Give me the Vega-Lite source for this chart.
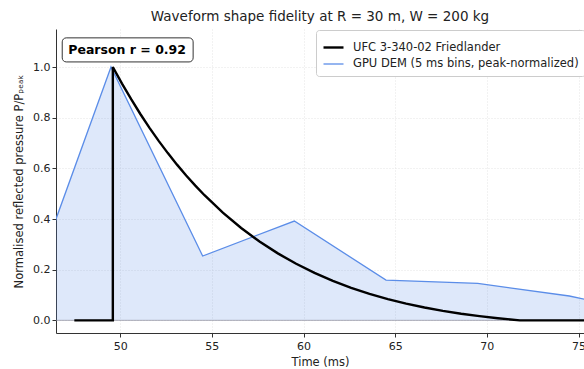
{
  "$schema": "https://vega.github.io/schema/vega-lite/v6.json",
  "width": 528,
  "height": 304,
  "autosize": {"type": "none"},
  "padding": {"left": 56, "top": 29, "right": 0, "bottom": 36},
  "title": {"text": "Waveform shape fidelity at R = 30 m, W = 200 kg", "font": "DejaVu Sans", "fontSize": 13.5, "fontWeight": "normal", "color": "#222", "offset": 6, "anchor": "middle"},
  "config": {
    "font": "DejaVu Sans",
    "view": {"stroke": null},
    "axis": {"labelFont": "DejaVu Sans", "titleFont": "DejaVu Sans", "labelFontSize": 11, "titleFontSize": 11.5, "titleFontWeight": "normal", "labelColor": "#222", "titleColor": "#222", "domainColor": "#333", "tickColor": "#333", "tickSize": 4, "gridColor": "#dddddd", "gridDash": [1, 2], "gridWidth": 0.8}
  },
  "datasets": {
    "dem": [
      {"t": 44.5, "p": 0.0, "series": "GPU DEM (5 ms bins, peak-normalized)"},
      {"t": 49.5, "p": 1.0, "series": "GPU DEM (5 ms bins, peak-normalized)"},
      {"t": 54.5, "p": 0.254, "series": "GPU DEM (5 ms bins, peak-normalized)"},
      {"t": 59.5, "p": 0.392, "series": "GPU DEM (5 ms bins, peak-normalized)"},
      {"t": 64.5, "p": 0.159, "series": "GPU DEM (5 ms bins, peak-normalized)"},
      {"t": 69.5, "p": 0.146, "series": "GPU DEM (5 ms bins, peak-normalized)"},
      {"t": 74.5, "p": 0.096, "series": "GPU DEM (5 ms bins, peak-normalized)"},
      {"t": 79.5, "p": 0.02, "series": "GPU DEM (5 ms bins, peak-normalized)"}
    ],
    "fr": [
      {"o": 0, "t": 47.5, "p": 0.0, "series": "UFC 3-340-02 Friedlander"},
      {"o": 1, "t": 49.6, "p": 0.0, "series": "UFC 3-340-02 Friedlander"},
      {"o": 2, "t": 49.6, "p": 1.0, "series": "UFC 3-340-02 Friedlander"},
      {"o": 3, "t": 50.1, "p": 0.9345, "series": "UFC 3-340-02 Friedlander"},
      {"o": 4, "t": 50.6, "p": 0.8728, "series": "UFC 3-340-02 Friedlander"},
      {"o": 5, "t": 51.1, "p": 0.8145, "series": "UFC 3-340-02 Friedlander"},
      {"o": 6, "t": 51.6, "p": 0.7599, "series": "UFC 3-340-02 Friedlander"},
      {"o": 7, "t": 52.1, "p": 0.7085, "series": "UFC 3-340-02 Friedlander"},
      {"o": 8, "t": 52.6, "p": 0.6601, "series": "UFC 3-340-02 Friedlander"},
      {"o": 9, "t": 53.1, "p": 0.6146, "series": "UFC 3-340-02 Friedlander"},
      {"o": 10, "t": 53.6, "p": 0.5717, "series": "UFC 3-340-02 Friedlander"},
      {"o": 11, "t": 54.1, "p": 0.5316, "series": "UFC 3-340-02 Friedlander"},
      {"o": 12, "t": 54.6, "p": 0.4938, "series": "UFC 3-340-02 Friedlander"},
      {"o": 13, "t": 55.6, "p": 0.425, "series": "UFC 3-340-02 Friedlander"},
      {"o": 14, "t": 56.6, "p": 0.3645, "series": "UFC 3-340-02 Friedlander"},
      {"o": 15, "t": 57.6, "p": 0.3111, "series": "UFC 3-340-02 Friedlander"},
      {"o": 16, "t": 58.6, "p": 0.2643, "series": "UFC 3-340-02 Friedlander"},
      {"o": 17, "t": 59.6, "p": 0.2232, "series": "UFC 3-340-02 Friedlander"},
      {"o": 18, "t": 60.6, "p": 0.1873, "series": "UFC 3-340-02 Friedlander"},
      {"o": 19, "t": 61.6, "p": 0.1559, "series": "UFC 3-340-02 Friedlander"},
      {"o": 20, "t": 62.6, "p": 0.1285, "series": "UFC 3-340-02 Friedlander"},
      {"o": 21, "t": 63.6, "p": 0.1046, "series": "UFC 3-340-02 Friedlander"},
      {"o": 22, "t": 64.6, "p": 0.084, "series": "UFC 3-340-02 Friedlander"},
      {"o": 23, "t": 65.6, "p": 0.0661, "series": "UFC 3-340-02 Friedlander"},
      {"o": 24, "t": 66.6, "p": 0.0506, "series": "UFC 3-340-02 Friedlander"},
      {"o": 25, "t": 67.6, "p": 0.0374, "series": "UFC 3-340-02 Friedlander"},
      {"o": 26, "t": 68.6, "p": 0.026, "series": "UFC 3-340-02 Friedlander"},
      {"o": 27, "t": 69.6, "p": 0.0164, "series": "UFC 3-340-02 Friedlander"},
      {"o": 28, "t": 70.6, "p": 0.0082, "series": "UFC 3-340-02 Friedlander"},
      {"o": 29, "t": 71.8, "p": 0.0, "series": "UFC 3-340-02 Friedlander"},
      {"o": 30, "t": 78.0, "p": 0.0, "series": "UFC 3-340-02 Friedlander"}
    ]
  },
  "encoding": {
    "x": {"type": "quantitative", "scale": {"domain": [46.5, 75.3], "nice": false, "zero": false}, "axis": {"title": "Time (ms)", "values": [50, 55, 60, 65, 70, 75], "grid": true, "titlePadding": 5, "labelPadding": 3}},
    "y": {"type": "quantitative", "scale": {"domain": [-0.05, 1.15], "nice": false, "zero": false}, "axis": {"title": "Normalised reflected pressure P/Pₚₑₐₖ", "values": [0, 0.2, 0.4, 0.6, 0.8, 1.0], "format": ".1f", "grid": true, "titlePadding": 8}}
  },
  "layer": [
    {
      "data": {"name": "dem"},
      "mark": {"type": "area", "color": "#5b8de8", "opacity": 0.2, "clip": true},
      "encoding": {
        "x": {"field": "t", "type": "quantitative"},
        "y": {"field": "p", "type": "quantitative"},
        "y2": {"datum": 0}
      }
    },
    {
      "data": {"values": [{"z": 0}]},
      "mark": {"type": "rule", "color": "#8a8a9a", "strokeWidth": 1, "opacity": 0.7},
      "encoding": {"y": {"field": "z", "type": "quantitative"}}
    },
    {
      "data": {"name": "dem"},
      "mark": {"type": "line", "clip": true},
      "encoding": {
        "x": {"field": "t", "type": "quantitative"},
        "y": {"field": "p", "type": "quantitative"},
        "color": {"field": "series", "type": "nominal", "scale": {"domain": ["UFC 3-340-02 Friedlander", "GPU DEM (5 ms bins, peak-normalized)"], "range": ["#000000", "#5b8de8"]}, "legend": {"title": null, "orient": "none", "legendX": 260, "legendY": 1, "symbolType": "stroke", "symbolSize": 400, "labelFontSize": 11.5, "labelFont": "DejaVu Sans", "labelColor": "#222", "labelLimit": 400, "strokeColor": "#cccccc", "fillColor": "#ffffff", "cornerRadius": 3, "padding": 6, "rowPadding": 0, "labelOffset": 8}},
        "strokeWidth": {"field": "series", "type": "nominal", "scale": {"domain": ["UFC 3-340-02 Friedlander", "GPU DEM (5 ms bins, peak-normalized)"], "range": [2.4, 1.3]}, "legend": null}
      }
    },
    {
      "data": {"name": "fr"},
      "mark": {"type": "line", "clip": true},
      "encoding": {
        "x": {"field": "t", "type": "quantitative"},
        "y": {"field": "p", "type": "quantitative"},
        "order": {"field": "o", "type": "quantitative"},
        "color": {"field": "series", "type": "nominal"},
        "strokeWidth": {"field": "series", "type": "nominal", "legend": null}
      }
    },
    {
      "data": {"values": [{"label": "Pearson r = 0.92"}]},
      "mark": {"type": "rect", "fill": "#ffffff", "stroke": "#333333", "strokeWidth": 1, "cornerRadius": 4},
      "encoding": {
        "x": {"datum": 46.84},
        "x2": {"datum": 53.98},
        "y": {"datum": 1.115},
        "y2": {"datum": 1.02}
      }
    },
    {
      "data": {"values": [{"label": "Pearson r = 0.92"}]},
      "mark": {"type": "text", "align": "left", "baseline": "middle", "fontSize": 12.5, "fontWeight": "bold", "font": "DejaVu Sans", "color": "#000"},
      "encoding": {
        "x": {"datum": 47.17},
        "y": {"datum": 1.067},
        "text": {"field": "label"}
      }
    }
  ]
}
